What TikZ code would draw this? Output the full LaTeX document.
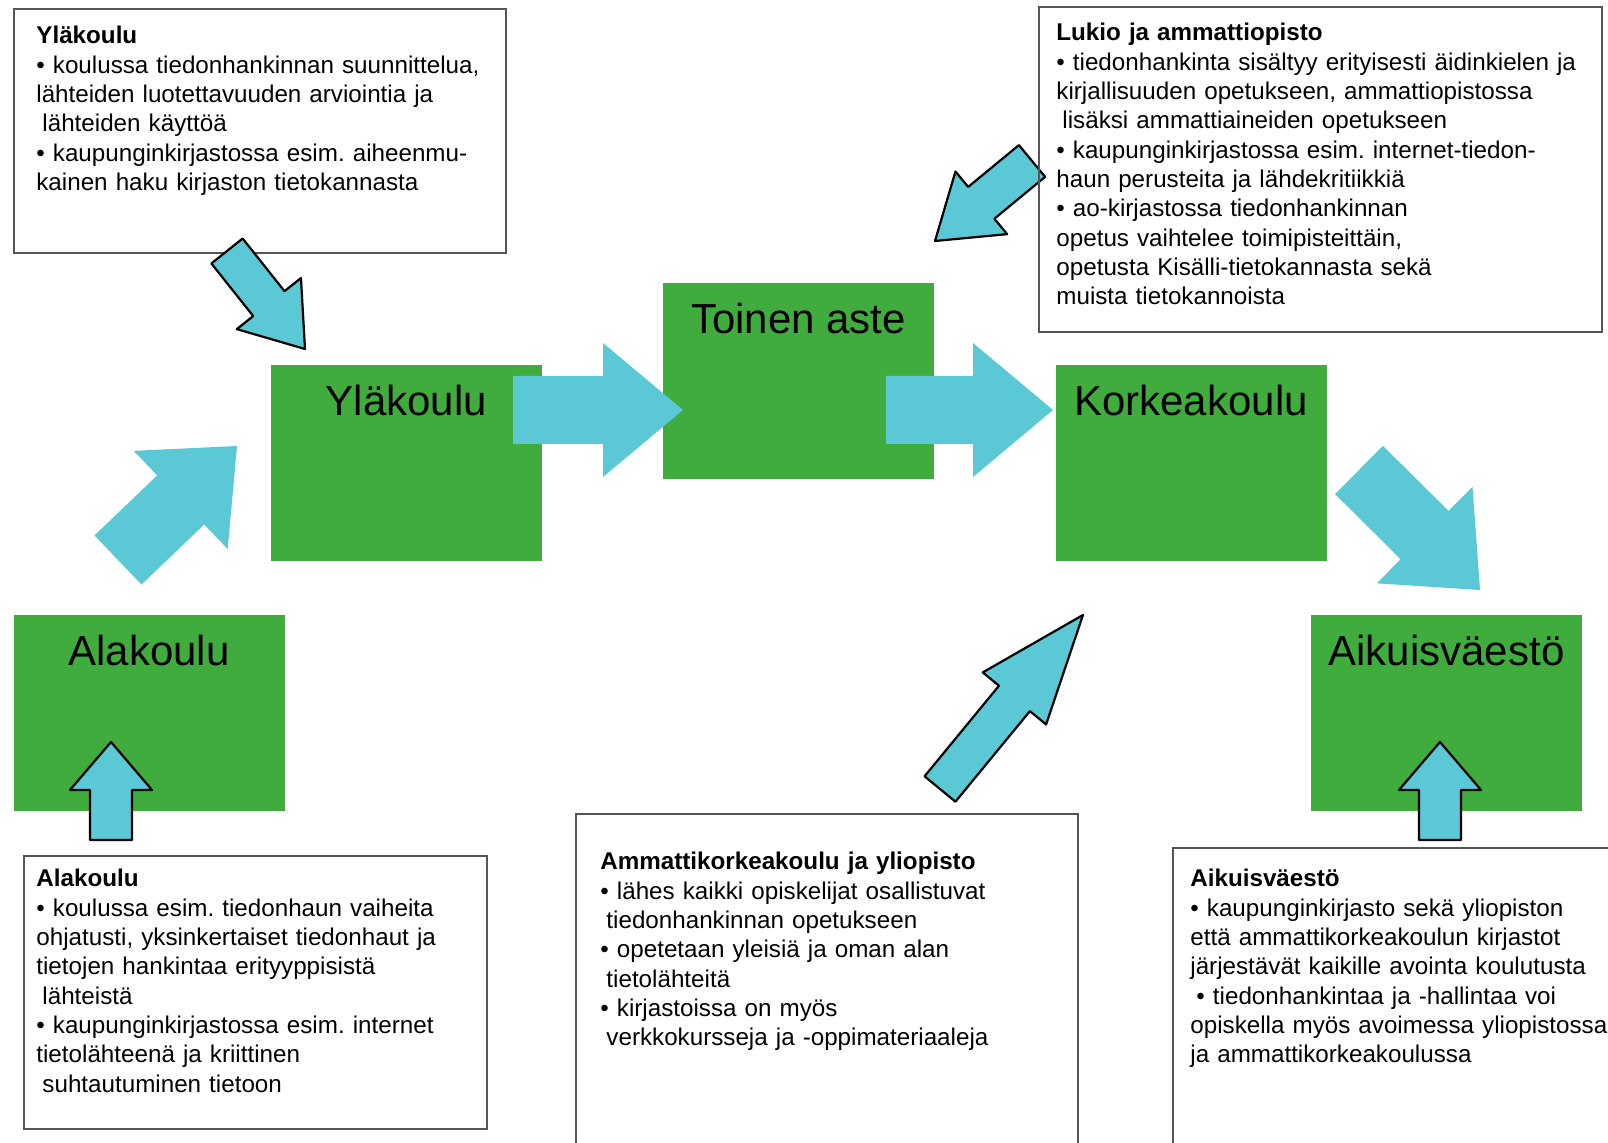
\documentclass[tikz,border=0pt]{standalone}
\usepackage{fontspec}
\setmainfont{Liberation Sans}
\usetikzlibrary{calc}
\definecolor{stagegreen}{RGB}{65,172,62}
\definecolor{arrowcyan}{RGB}{91,200,214}
\definecolor{boxgray}{RGB}{85,85,85}
\frenchspacing
% block arrow: [style]{tail}{tip}{shaft half width}{head half width}{head length}
\newcommand{\blockarrow}[6][plainarrow]{%
  \coordinate (hb) at ($(#3)!#6!(#2)$);
  \path[#1] ($(#2)!#4!90:(#3)$) -- ($(hb)!#4!90:(#3)$) -- ($(hb)!#5!90:(#3)$) -- (#3)
    -- ($(hb)!#5!-90:(#3)$) -- ($(hb)!#4!-90:(#3)$) -- ($(#2)!#4!-90:(#3)$) -- cycle;
}
\begin{document}
\begin{tikzpicture}[x=0.5pt, y=-0.5pt,
    stage/.style={fill=stagegreen, minimum width=135.5pt, minimum height=98pt, inner sep=0pt},
    stagelabel/.style={anchor=base, inner sep=0pt, font=\fontsize{21}{25}\selectfont},
    infobox/.style={draw=boxgray, line width=0.9pt, fill=white, anchor=north west, inner sep=0pt},
    infotext/.style={anchor=base west, inner sep=0pt, text width=300pt, align=left,
      font=\fontsize{12.1}{14.65}\selectfont},
    plainarrow/.style={fill=arrowcyan},
    rimarrow/.style={fill=arrowcyan, draw=black, line width=1.1pt, line join=round}]
    \useasboundingbox (0,0) rectangle (1608,1143);
    \clip (0,0) rectangle (1608,1143);

    \node[infobox, minimum width=246pt, minimum height=122pt] (ylaBox) at (13,8) {};
    \node[infobox, minimum width=231.5pt, minimum height=136.5pt] (alaBox) at (23,855) {};
    \node[infobox, minimum width=251pt, minimum height=180pt] (amkBox) at (575,813) {};
    \node[infobox, minimum width=230pt, minimum height=170pt] (aikBox) at (1172,847) {};

    \node[stage] (ala) at (149,713.5) {};
    \node[stage] (yla) at (406.5,463.5) {};
    \node[stage] (toinen) at (798.5,381.5) {};
    \node[stage] (korkea) at (1191,463.5) {};
    \node[stage] (aikuis) at (1446.5,713.5) {};

    \node[stagelabel] (alaLabel) at ([yshift=-25pt]ala.north) {Alakoulu};
    \node[stagelabel] (ylaLabel) at ([yshift=-25pt]yla.north) {Yläkoulu};
    \node[stagelabel] (toinenLabel) at ([yshift=-25pt]toinen.north) {Toinen aste};
    \node[stagelabel] (korkeaLabel) at ([yshift=-25pt]korkea.north) {Korkeakoulu};
    \node[stagelabel] (aikuisLabel) at ([yshift=-25pt]aikuis.north) {Aikuisväestö};

    \coordinate (a1s) at (513,410);   \coordinate (a1e) at (683,410);
    \coordinate (a2s) at (886,410);   \coordinate (a2e) at (1053,410);
    \coordinate (a3s) at (118,560);   \coordinate (a3e) at (237,446);
    \coordinate (a4s) at (1359,470);  \coordinate (a4e) at (1480,590);
    \coordinate (a5s) at (227,251);   \coordinate (a5e) at (305,349);
    \coordinate (a6s) at (1032,161);  \coordinate (a6e) at (935,241);
    \coordinate (a7s) at (940,789);   \coordinate (a7e) at (1083,615);
    \coordinate (a8s) at (111,840);   \coordinate (a8e) at (111,742);
    \coordinate (a9s) at (1440,840);  \coordinate (a9e) at (1440,742);

    \blockarrow{a1s}{a1e}{17pt}{33.5pt}{40pt}
    \blockarrow{a2s}{a2e}{17pt}{33.5pt}{40pt}
    \blockarrow{a3s}{a3e}{17pt}{34pt}{39pt}
    \blockarrow{a4s}{a4e}{17pt}{34pt}{39pt}
    \blockarrow[rimarrow]{a5s}{a5e}{10pt}{20.5pt}{29pt}
    \blockarrow[rimarrow]{a6s}{a6e}{10.3pt}{20.3pt}{30pt}
    \blockarrow[rimarrow]{a7s}{a7e}{10pt}{20.5pt}{54pt}
    \blockarrow[rimarrow]{a8s}{a8e}{10.5pt}{20.5pt}{24pt}
    \blockarrow[rimarrow]{a9s}{a9e}{10.5pt}{20.5pt}{24pt}

    \node[infobox, fill=none, minimum width=281.5pt, minimum height=162.5pt] (lukioBox) at (1038,6) {};

    \node[infotext] (ylaText) at (36,44) {\textbf{Yläkoulu}\\
      • koulussa tiedonhankinnan suunnittelua,\\
      lähteiden luotettavuuden arviointia ja\\
      \hspace*{0.25em}lähteiden käyttöä\\
      • kaupunginkirjastossa esim. aiheenmu-\\
      kainen haku kirjaston tietokannasta};
    \node[infotext] (lukioText) at (1056,41) {\textbf{Lukio ja ammattiopisto}\\
      • tiedonhankinta sisältyy erityisesti äidinkielen ja\\
      kirjallisuuden opetukseen, ammattiopistossa\\
      \hspace*{0.25em}lisäksi ammattiaineiden opetukseen\\
      • kaupunginkirjastossa esim. internet-tiedon-\\
      haun perusteita ja lähdekritiikkiä\\
      • ao-kirjastossa tiedonhankinnan\\
      opetus vaihtelee toimipisteittäin,\\
      opetusta Kisälli-tietokannasta sekä\\
      muista tietokannoista};
    \node[infotext] (alaText) at (36,887) {\textbf{Alakoulu}\\
      • koulussa esim. tiedonhaun vaiheita\\
      ohjatusti, yksinkertaiset tiedonhaut ja\\
      tietojen hankintaa erityyppisistä\\
      \hspace*{0.25em}lähteistä\\
      • kaupunginkirjastossa esim. internet\\
      tietolähteenä ja kriittinen\\
      \hspace*{0.25em}suhtautuminen tietoon};
    \node[infotext] (amkText) at (600,870) {\textbf{Ammattikorkeakoulu ja yliopisto}\\
      • lähes kaikki opiskelijat osallistuvat\\
      \hspace*{0.25em}tiedonhankinnan opetukseen\\
      • opetetaan yleisiä ja oman alan\\
      \hspace*{0.25em}tietolähteitä\\
      • kirjastoissa on myös\\
      \hspace*{0.25em}verkkokursseja ja -oppimateriaaleja};
    \node[infotext] (aikText) at (1190,887) {\textbf{Aikuisväestö}\\
      • kaupunginkirjasto sekä yliopiston\\
      että ammattikorkeakoulun kirjastot\\
      järjestävät kaikille avointa koulutusta\\
      \hspace*{0.25em}• tiedonhankintaa ja -hallintaa voi\\
      opiskella myös avoimessa yliopistossa\\
      ja ammattikorkeakoulussa};
\end{tikzpicture}
\end{document}
